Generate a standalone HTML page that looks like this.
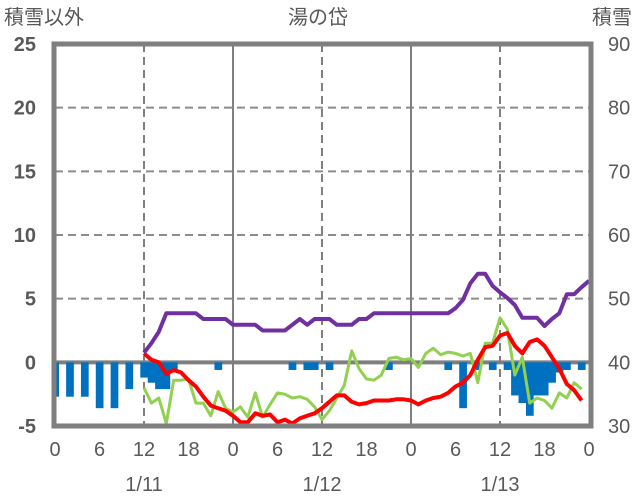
<!DOCTYPE html>
<html><head><meta charset="utf-8"><style>
body{margin:0;background:#fff;width:636px;height:501px;overflow:hidden}
svg{display:block}
text{font-family:"Liberation Sans","Noto Sans CJK JP",sans-serif;fill:#595959}
</style></head><body>
<svg id="chart" width="636" height="501" viewBox="0 0 636 501" xmlns="http://www.w3.org/2000/svg">
<text x="4" y="24" font-size="20">積雪以外</text>
<text x="318" y="24" font-size="20" text-anchor="middle">湯の岱</text>
<text x="632" y="24" font-size="20" text-anchor="end">積雪</text>
<g id="grid"></g>
<g id="bars"></g>
<g id="lines"></g>
<g id="frame"></g>
<g id="axes"></g>
</svg>
<script>
const leftTicks=[-5,0,5,10,15,20,25];
const rightTicks=[30,40,50,60,70,80,90];
const hourLabels=["0","6","12","18","0","6","12","18","0","6","12","18","0"];
const dateLabels=["1/11","1/12","1/13"];
const barHours=[0,2,4,6,8,10,12,13,14,15,16,22,32,34,35,37,45,53,55,57,59,61,62,63,64,65,66,67,68,69,71];
const barValues=[-2.7,-2.7,-2.7,-3.6,-3.6,-2.1,-1.2,-1.6,-2.1,-2.1,-0.6,-0.6,-0.6,-0.6,-0.6,-0.6,-0.6,-0.6,-3.6,-0.6,-0.6,-0.6,-2.6,-3.2,-4.2,-2.6,-2.6,-1.6,-0.8,-0.6,-0.6];
const tempValues=[0.7,0.2,0,-0.9,-0.6,-0.8,-1.4,-1.9,-2.7,-3.4,-3.6,-3.8,-4.2,-4.7,-4.7,-4,-4.2,-4.1,-4.7,-4.5,-4.8,-4.4,-4.2,-4.0,-3.6,-3.1,-2.6,-2.6,-3.1,-3.3,-3.2,-3.0,-3.0,-3.0,-2.9,-2.9,-3.0,-3.3,-3.0,-2.8,-2.7,-2.4,-1.9,-1.6,-1.0,0.2,1.2,1.3,2.1,2.3,1.3,0.7,1.6,1.8,1.3,0.4,-0.5,-1.7,-2.2,-3.0];
const windValues=[-2.0,-3.2,-2.8,-4.8,-1.4,-1.4,-1.3,-3.2,-3.2,-4.2,-2.3,-3.6,-3.9,-3.5,-4.3,-2.4,-4.3,-3.3,-2.4,-2.5,-2.8,-2.7,-2.9,-3.5,-4.5,-3.8,-2.8,-1.8,0.9,-0.5,-1.3,-1.4,-1.0,0.3,0.4,0.2,0.3,-0.4,0.7,1.1,0.6,0.8,0.7,0.5,0.7,-1.6,1.5,1.5,3.5,2.6,-1.0,0.4,-3.2,-2.8,-3.0,-3.6,-2.4,-2.8,-1.6,-2.1];
const snowValues=[41.5,43,44.8,47.7,47.7,47.7,47.7,47.7,46.8,46.8,46.8,46.8,45.9,45.9,45.9,45.9,45,45,45,45,45.9,46.8,45.9,46.8,46.8,46.8,45.9,45.9,45.9,46.8,46.8,47.7,47.7,47.7,47.7,47.7,47.7,47.7,47.7,47.7,47.7,47.7,48.5,49.8,52.4,53.9,53.9,52,51,50.1,49,47,47,47,45.7,46.8,47.7,50.7,50.7,51.8,52.8];
const seriesStart=12;
const X0=55,X1=589,YT=44,YB=426;
const xs=h=>X0+(X1-X0)*h/72;
const yL=v=>YB-(v+5)/30*(YB-YT);
const yR=v=>YB-(v-30)/60*(YB-YT);
const NS="http://www.w3.org/2000/svg";
function mk(tag,attrs,parent){const e=document.createElementNS(NS,tag);for(const k in attrs)e.setAttribute(k,attrs[k]);document.getElementById(parent).appendChild(e);return e;}
// grid
[5,10,15,20].forEach(v=>{const l=mk('line',{x1:X0,x2:X1+2,y1:yL(v),y2:yL(v),stroke:'#8c8c8c','stroke-width':2,'stroke-dasharray':'8,5'},'grid');});
[12,36,60].forEach(h=>{const l=mk('line',{x1:xs(h),x2:xs(h),y1:YT,y2:YB,stroke:'#7f7f7f','stroke-width':2,'stroke-dasharray':'8,5'},'grid');});
[24,48].forEach(h=>{const l=mk('line',{x1:xs(h),x2:xs(h),y1:YT,y2:YB,stroke:'#7f7f7f','stroke-width':2},'grid');});
// bars
const bw=(X1-X0)/72;
barHours.forEach((h,i)=>{const v=barValues[i];let x=xs(h)-bw/2,w=bw;if(x<X0){w-=X0-x;x=X0;}
const r=mk('rect',{x:x,y:yL(0),width:w+0.3,height:yL(v)-yL(0),fill:'#0070c0'},'bars');});
const zl=mk('line',{x1:X0,x2:X1+2,y1:yL(0),y2:yL(0),stroke:'#7f7f7f','stroke-width':4},'grid');
function poly(vals,fy,color,w,name){const pts=vals.map((v,i)=>xs(seriesStart+i).toFixed(1)+','+fy(v).toFixed(1)).join(' ');
const p=mk('polyline',{points:pts,fill:'none',stroke:color,'stroke-width':w,'stroke-linejoin':'round'},'lines');}
poly(windValues,yL,'#92d050',3,'wind-line');
poly(tempValues,yL,'#ff0000',4,'temperature-line');
poly(snowValues,yR,'#7030a0',4,'snow-depth-line');
const fr=mk('rect',{x:X0-1,y:YT,width:X1-X0+3,height:YB-YT,fill:'none',stroke:'#7f7f7f','stroke-width':5},'frame');
leftTicks.forEach(v=>{const t=mk('text',{x:36,y:yL(v)+7,'font-size':20,'text-anchor':'end','font-weight':'bold'},'axes');t.textContent=v;});
rightTicks.forEach(v=>{const t=mk('text',{x:608,y:yR(v)+7,'font-size':20},'axes');t.textContent=v;});
hourLabels.forEach((s,i)=>{const t=mk('text',{x:xs(i*6),y:456,'font-size':20,'text-anchor':'middle'},'axes');t.textContent=s;});
dateLabels.forEach((s,i)=>{const t=mk('text',{x:xs(12+24*i),y:491,'font-size':20,'text-anchor':'middle'},'axes');t.textContent=s;});
</script>
</body></html>
